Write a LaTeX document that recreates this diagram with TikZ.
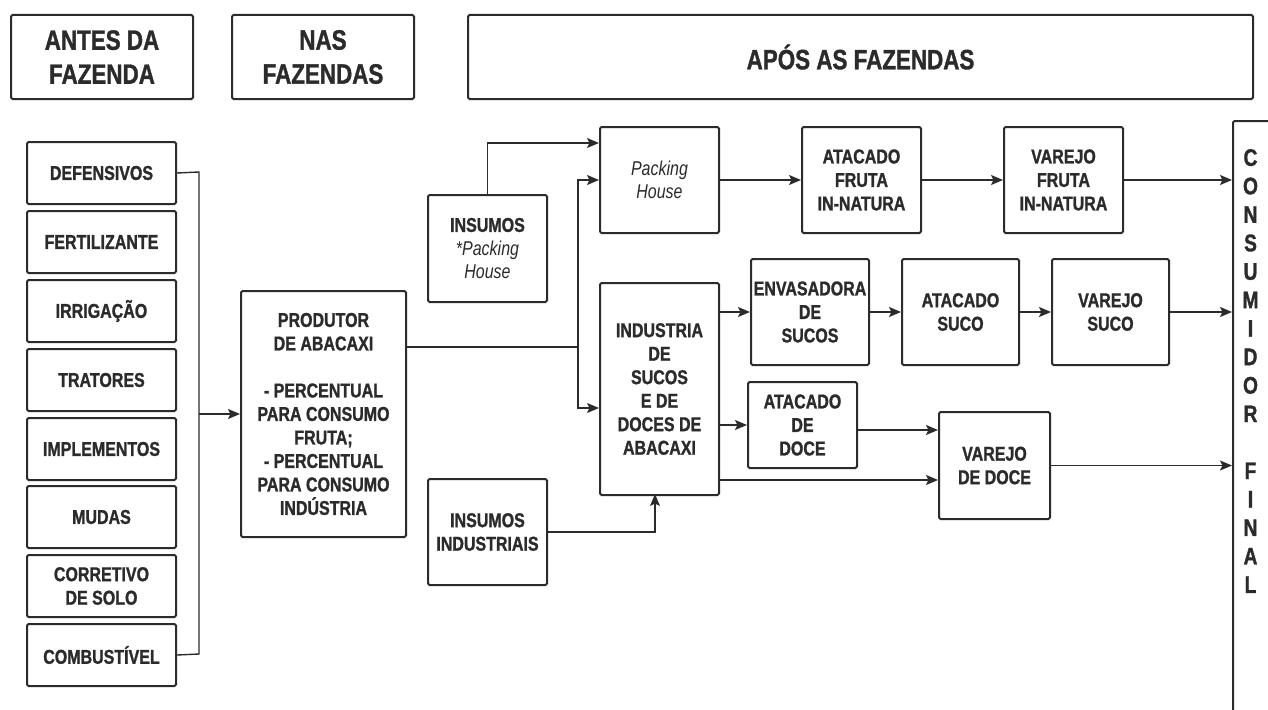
\documentclass[tikz,border=0pt]{standalone}
\usepackage{fontspec}
\setmainfont{Liberation Sans}[FakeStretch=0.8, BoldFeatures={FakeBold=1.2}]
\usetikzlibrary{arrows.meta}
\definecolor{ink}{HTML}{2B2B2B}
\newcommand\flowfont{\fontsize{20}{23.5}\selectfont\bfseries}
\newcommand\headfont{\fontsize{28}{34}\selectfont\bfseries}

\begin{document}
\begin{tikzpicture}[x=1pt,y=-1pt,
  box/.style={draw=ink, line width=2pt, rounded corners=1.5pt, inner sep=0pt,
    anchor=north west, align=center, text=ink, font=\flowfont},
  headbox/.style={box, font=\headfont},
  colbox/.style={box, minimum width=149pt, minimum height=62pt},
  link/.style={draw=ink, line width=1.4pt},
  arr/.style={link, -{Stealth[length=12pt,width=10pt,inset=2.5pt]}}
]
\useasboundingbox (0,0) rectangle (1268,709);
\clip (0,0) rectangle (1268,709);

% column headers
\node[headbox, minimum width=182pt, minimum height=84pt] (hA) at (10,14) {ANTES DA\\FAZENDA};
\node[headbox, minimum width=182pt, minimum height=84pt] (hN) at (231,14) {NAS\\FAZENDAS};
\node[headbox, minimum width=785pt, minimum height=84pt] (hP) at (467,14) {APÓS AS FAZENDAS};

% inputs before the farm
\node[colbox] (def)  at (26,141) {DEFENSIVOS};
\node[colbox] (fert) at (26,210) {FERTILIZANTE};
\node[colbox] (irr)  at (26,279) {IRRIGAÇÃO};
\node[colbox] (trat) at (26,348) {TRATORES};
\node[colbox] (impl) at (26,417) {IMPLEMENTOS};
\node[colbox] (mud)  at (26,485) {MUDAS};
\node[colbox] (corr) at (26,554) {CORRETIVO\\DE SOLO};
\node[colbox] (comb) at (26,623) {COMBUSTÍVEL};

% producer
\node[box, minimum width=165pt, minimum height=246pt] (prod) at (240,290)
  {PRODUTOR\\DE ABACAXI\\[23.5pt]- PERCENTUAL\\PARA CONSUMO\\FRUTA;\\- PERCENTUAL\\PARA CONSUMO\\INDÚSTRIA};

% supplies
\node[box, minimum width=119pt, minimum height=107pt] (insPH) at (427,194)
  {INSUMOS\\{\mdseries\itshape *Packing}\\{\mdseries\itshape House}};
\node[box, minimum width=119pt, minimum height=106pt] (insInd) at (427,478)
  {INSUMOS\\INDUSTRIAIS};

% fresh fruit chain
\node[box, minimum width=119pt, minimum height=106pt, font=\fontsize{20}{23.5}\selectfont\itshape] (pack) at (599,126)
  {Packing\\House};
\node[box, minimum width=119pt, minimum height=106pt] (atF)  at (801,126) {ATACADO\\FRUTA\\IN-NATURA};
\node[box, minimum width=119pt, minimum height=106pt] (varF) at (1003,126) {VAREJO\\FRUTA\\IN-NATURA};

% industry chain
\node[box, minimum width=119pt, minimum height=212pt] (ind) at (599,282)
  {INDUSTRIA\\DE\\SUCOS\\E DE\\DOCES DE\\ABACAXI};
\node[box, minimum width=118pt, minimum height=106pt] (env)  at (750,258) {ENVASADORA\\DE\\SUCOS};
\node[box, minimum width=117pt, minimum height=106pt] (atS)  at (901,258) {ATACADO\\SUCO};
\node[box, minimum width=117pt, minimum height=106pt] (varS) at (1051,258) {VAREJO\\SUCO};
\node[box, minimum width=109pt, minimum height=86pt]  (atD)  at (747,381) {ATACADO\\DE\\DOCE};
\node[box, minimum width=111pt, minimum height=107pt] (varD) at (938,411) {VAREJO\\DE DOCE};

% final consumer
\node[box, minimum width=80pt, minimum height=640pt] (cons) at (1232,120) {};
\node[text=ink, align=center, font=\fontsize{24}{28.47}\selectfont\bfseries] (consTxt) at (1250.5,371)
  {C\\O\\N\\S\\U\\M\\I\\D\\O\\R\\[28.47pt]F\\I\\N\\A\\L};

% bracket gathering the inputs
\coordinate (bT) at (199,172);
\coordinate (bB) at (199,654);
\draw[link] (def.east) -- (bT) -- (bB) -- (comb.east);
\draw[arr] (bT |- prod.west) -- (prod.west);

% producer split
\coordinate (sp) at (578,347);
\draw[link] (prod.east |- sp) -- (sp);
\draw[arr] (sp) |- (pack.west);
\draw[arr] (sp) |- (ind.west |- 0,408);
\draw[arr] (insPH.north) |- (pack.west |- 0,143);

% fresh fruit flow
\draw[arr] (pack.east) -- (atF.west);
\draw[arr] (atF.east) -- (varF.west);
\draw[arr] (varF.east) -- (cons.west |- varF.east);

% juice flow
\draw[arr] (ind.east |- env.west) -- (env.west);
\draw[arr] (env.east) -- (atS.west);
\draw[arr] (atS.east) -- (varS.west);
\draw[arr] (varS.east) -- (cons.west |- varS.east);

% sweets flow
\draw[arr] (ind.east |- atD.west) -- (atD.west);
\draw[arr] (atD.east |- 0,430) -- (varD.west |- 0,430);
\draw[arr] (ind.east |- 0,480) -- (varD.west |- 0,480);
\draw[arr] (varD.east) -- (cons.west |- varD.east);

% industrial supplies
\draw[arr] (insInd.east) -| (655,494);
\end{tikzpicture}
\end{document}
